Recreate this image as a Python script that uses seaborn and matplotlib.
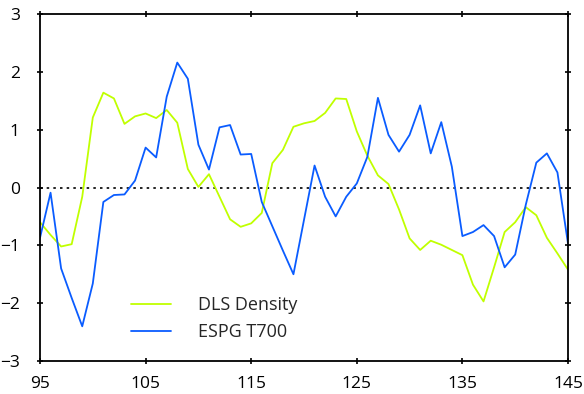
"""Recreate the DLS Density vs ESPG T700 line chart"""

import matplotlib
matplotlib.use("Agg")
import matplotlib.pyplot as plt
import pandas as pd
import seaborn as sns

sns.set_style("ticks")
plt.rcParams['font.family'] = ['Open Sans', 'DejaVu Sans']

years = list(range(95, 146))

dls_density = [
    -0.60, -0.82, -1.02, -0.98, -0.16, 1.21, 1.64, 1.54, 1.10, 1.23,
    1.28, 1.20, 1.34, 1.12, 0.32, 0.01, 0.23, -0.16, -0.55, -0.68,
    -0.62, -0.44, 0.42, 0.65, 1.05, 1.11, 1.15, 1.29, 1.54, 1.53,
    0.97, 0.55, 0.21, 0.06, -0.38, -0.88, -1.08, -0.92, -0.99, -1.08,
    -1.17, -1.68, -1.97, -1.38, -0.77, -0.60, -0.34, -0.48, -0.87, -1.14,
    -1.42,
]

espg_t700 = [
    -0.87, -0.09, -1.40, -1.91, -2.40, -1.66, -0.25, -0.13, -0.12, 0.12,
    0.69, 0.52, 1.57, 2.16, 1.88, 0.74, 0.31, 1.04, 1.08, 0.57,
    0.58, -0.25, -0.67, -1.09, -1.50, -0.56, 0.38, -0.16, -0.50, -0.16,
    0.07, 0.53, 1.55, 0.91, 0.62, 0.91, 1.42, 0.59, 1.13, 0.36,
    -0.84, -0.77, -0.65, -0.84, -1.38, -1.16, -0.30, 0.43, 0.59, 0.26,
    -0.97,
]

series_names = ["DLS Density", "ESPG T700"]
series_colors = ["#C0FF00", "#0A5CFF"]

df = pd.DataFrame({
    "year": years * 2,
    "value": dls_density + espg_t700,
    "series": [series_names[0]] * len(years) + [series_names[1]] * len(years),
})

fig = plt.figure(figsize=(5.84, 3.94), dpi=100)
ax = fig.add_axes([40 / 584, 1 - 361 / 394, 528 / 584, 347 / 394])

# dotted zero line
ax.axhline(0, color="black", linestyle=(0, (1.5, 2.5)), linewidth=1.2, zorder=1)

sns.lineplot(data=df, x="year", y="value", hue="series",
             palette=dict(zip(series_names, series_colors)),
             linewidth=1.3, ax=ax, zorder=2)

ax.set_xlim(95, 145)
ax.set_ylim(-3, 3)
ax.set_xticks(range(95, 146, 10))
ax.set_yticks(range(-3, 4))
ax.set_xlabel("")
ax.set_ylabel("")

for side in ["top", "right", "bottom", "left"]:
    ax.spines[side].set_visible(True)
    ax.spines[side].set_color("black")
    ax.spines[side].set_linewidth(1.3)

ax.tick_params(axis="both", direction="inout", length=5, width=1.2,
               top=True, right=True, labelsize=12.5, colors="black")
ax.tick_params(axis="x", pad=8)
ax.tick_params(axis="y", pad=12)

ax.legend(frameon=False, loc="lower left", bbox_to_anchor=(0.172, 0.058),
          fontsize=13, handlelength=2.2, handletextpad=1.5,
          borderpad=0, borderaxespad=0, labelspacing=0.5)

fig.savefig("out.png", dpi=100)
plt.close(fig)
